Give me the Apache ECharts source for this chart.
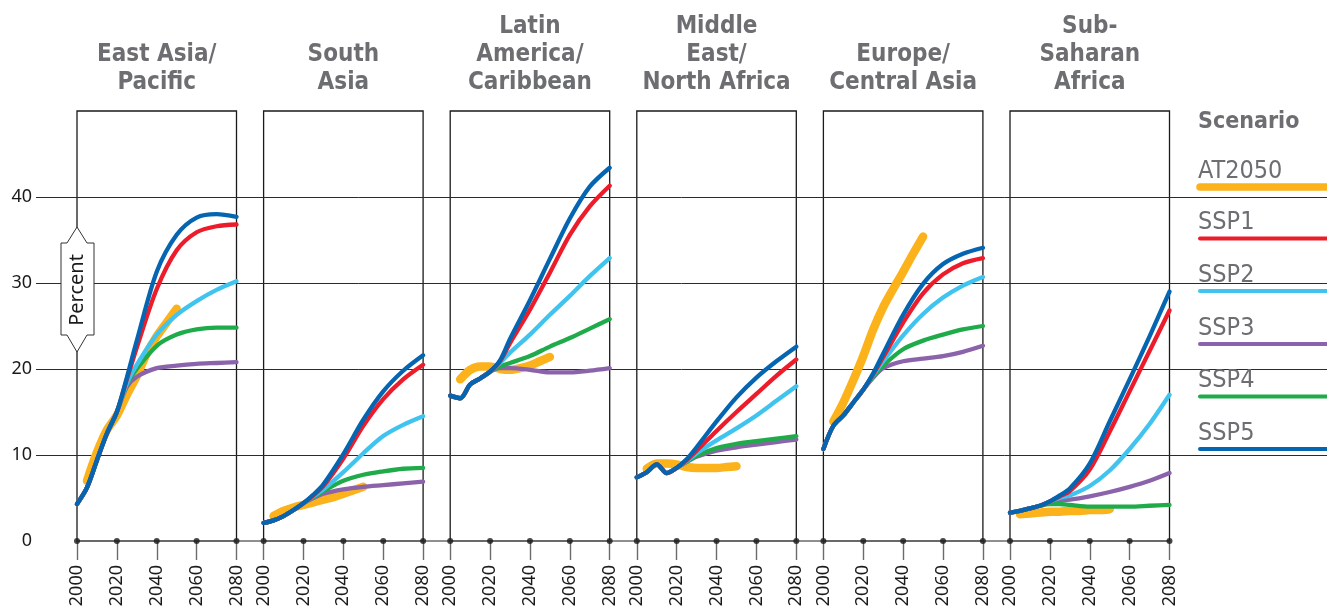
<!DOCTYPE html>
<html><head><meta charset="utf-8">
<script src="https://cdn.jsdelivr.net/npm/echarts@6/dist/echarts.min.js"></script>
<style>html,body{margin:0;padding:0;background:#fff}#c{width:1327px;height:608px}</style>
</head><body><div id="c"></div>
<script>
// ---------- data ----------
const REGIONS = ['East Asia/\nPacific', 'South\nAsia', 'Latin\nAmerica/\nCaribbean', 'Middle\nEast/\nNorth Africa', 'Europe/\nCentral Asia', 'Sub-\nSaharan\nAfrica'];
const SCENARIOS = ['AT2050', 'SSP1', 'SSP2', 'SSP3', 'SSP4', 'SSP5'];
const X_TICKS = [2000, 2020, 2040, 2060, 2080];
const Y_TICKS = [0, 10, 20, 30, 40];
const YEARS = [2000, 2005, 2010, 2015, 2020, 2025, 2030, 2040, 2050, 2060, 2070, 2080];
const AT_YEARS = [2005, 2010, 2015, 2020, 2025, 2030, 2035, 2040, 2045, 2050];

// East Asia/Pacific
const EAP_AT2050 = [7.0, 10.3, 12.9, 14.6, 17.0, 19.2, 21.8, 23.8, 25.4, 27.0];
const EAP_SSP1 = [4.3, 6.2, 9.4, 12.5, 15.0, 18.8, 22.5, 29.3, 33.8, 35.9, 36.6, 36.8];
const EAP_SSP2 = [4.3, 6.2, 9.4, 12.5, 15.0, 18.3, 20.5, 24.0, 26.3, 27.9, 29.2, 30.2];
const EAP_SSP3 = [4.3, 6.2, 9.4, 12.5, 15.0, 17.9, 19.1, 20.1, 20.4, 20.6, 20.7, 20.8];
const EAP_SSP4 = [4.3, 6.2, 9.4, 12.5, 15.0, 18.2, 20.0, 22.7, 24.0, 24.6, 24.8, 24.8];
const EAP_SSP5 = [4.3, 6.2, 9.4, 12.5, 15.0, 19.0, 23.3, 31.3, 35.6, 37.6, 38.0, 37.7];

// South Asia
const SA_AT2050 = [2.9, 3.5, 3.9, 4.2, 4.5, 4.8, 5.1, 5.5, 5.9, 6.3];
const SA_SSP1 = [2.1, 2.4, 2.9, 3.6, 4.4, 5.3, 6.4, 9.6, 13.4, 16.5, 18.8, 20.5];
const SA_SSP2 = [2.1, 2.4, 2.9, 3.6, 4.4, 5.2, 6.0, 8.0, 10.2, 12.2, 13.5, 14.5];
const SA_SSP3 = [2.1, 2.4, 2.9, 3.6, 4.4, 5.0, 5.5, 6.0, 6.3, 6.5, 6.7, 6.9];
const SA_SSP4 = [2.1, 2.4, 2.9, 3.6, 4.4, 5.1, 5.8, 7.0, 7.7, 8.1, 8.4, 8.5];
const SA_SSP5 = [2.1, 2.4, 2.9, 3.6, 4.4, 5.4, 6.6, 10.1, 14.1, 17.4, 19.8, 21.6];

// Latin America/Caribbean
const LAC_AT2050 = [18.8, 19.9, 20.3, 20.3, 20.0, 19.9, 20.1, 20.4, 20.9, 21.4];
const LAC_SSP1 = [16.9, 16.6, 18.2, 18.9, 19.7, 20.9, 23.0, 26.9, 31.2, 35.6, 38.9, 41.3];
const LAC_SSP2 = [16.9, 16.6, 18.2, 18.9, 19.7, 20.7, 21.9, 24.0, 26.3, 28.5, 30.8, 32.9];
const LAC_SSP3 = [16.9, 16.6, 18.2, 18.9, 19.7, 20.1, 20.1, 19.9, 19.6, 19.6, 19.8, 20.1];
const LAC_SSP4 = [16.9, 16.6, 18.2, 18.9, 19.7, 20.3, 20.7, 21.5, 22.6, 23.6, 24.7, 25.8];
const LAC_SSP5 = [16.9, 16.6, 18.2, 18.9, 19.7, 21.0, 23.5, 28.0, 32.8, 37.5, 41.2, 43.4];

// Middle East/North Africa
const MENA_AT2050 = [8.4, 9.0, 9.0, 8.9, 8.6, 8.5, 8.5, 8.5, 8.6, 8.7];
const MENA_SSP1 = [7.4, 8.0, 8.9, 7.9, 8.5, 9.4, 10.5, 12.8, 15.0, 17.1, 19.2, 21.1];
const MENA_SSP2 = [7.4, 8.0, 8.9, 7.9, 8.5, 9.3, 10.2, 11.7, 13.1, 14.6, 16.3, 18.0];
const MENA_SSP3 = [7.4, 8.0, 8.9, 7.9, 8.5, 9.2, 9.8, 10.5, 10.9, 11.2, 11.5, 11.8];
const MENA_SSP4 = [7.4, 8.0, 8.9, 7.9, 8.5, 9.2, 9.9, 10.8, 11.3, 11.6, 11.9, 12.2];
const MENA_SSP5 = [7.4, 8.0, 8.9, 7.9, 8.5, 9.5, 10.9, 13.9, 16.7, 19.0, 20.9, 22.6];

// Europe/Central Asia
const ECA_AT2050 = [13.9, 16.1, 18.7, 21.5, 24.6, 27.2, 29.3, 31.3, 33.4, 35.4];
const ECA_SSP1 = [10.7, 13.4, 14.6, 16.1, 17.6, 19.4, 21.4, 25.4, 28.8, 31.0, 32.3, 32.9];
const ECA_SSP2 = [10.7, 13.4, 14.6, 16.1, 17.6, 19.3, 20.9, 23.9, 26.4, 28.3, 29.7, 30.7];
const ECA_SSP3 = [10.7, 13.4, 14.6, 16.1, 17.6, 19.0, 20.1, 20.9, 21.2, 21.5, 22.0, 22.7];
const ECA_SSP4 = [10.7, 13.4, 14.6, 16.1, 17.6, 19.1, 20.4, 22.3, 23.3, 24.0, 24.6, 25.0];
const ECA_SSP5 = [10.7, 13.4, 14.6, 16.1, 17.6, 19.5, 21.8, 26.3, 29.9, 32.2, 33.4, 34.1];

// Sub-Saharan Africa
const SSA_AT2050 = [3.1, 3.2, 3.3, 3.4, 3.4, 3.5, 3.5, 3.6, 3.6, 3.7];
const SSA_SSP1 = [3.3, 3.5, 3.8, 4.1, 4.6, 5.2, 5.8, 8.3, 12.7, 17.4, 22.1, 26.8];
const SSA_SSP2 = [3.3, 3.5, 3.8, 4.1, 4.6, 5.0, 5.3, 6.4, 8.2, 10.7, 13.6, 17.0];
const SSA_SSP3 = [3.3, 3.5, 3.8, 4.1, 4.5, 4.7, 4.8, 5.2, 5.7, 6.3, 7.0, 7.9];
const SSA_SSP4 = [3.3, 3.5, 3.8, 4.1, 4.3, 4.3, 4.2, 4.0, 4.0, 4.0, 4.1, 4.2];
const SSA_SSP5 = [3.3, 3.5, 3.8, 4.1, 4.6, 5.3, 6.1, 9.0, 13.9, 18.8, 23.8, 29.0];

// table built from the arrays above (index order = SCENARIOS)
const TABLE = [
  [EAP_AT2050, EAP_SSP1, EAP_SSP2, EAP_SSP3, EAP_SSP4, EAP_SSP5],
  [SA_AT2050, SA_SSP1, SA_SSP2, SA_SSP3, SA_SSP4, SA_SSP5],
  [LAC_AT2050, LAC_SSP1, LAC_SSP2, LAC_SSP3, LAC_SSP4, LAC_SSP5],
  [MENA_AT2050, MENA_SSP1, MENA_SSP2, MENA_SSP3, MENA_SSP4, MENA_SSP5],
  [ECA_AT2050, ECA_SSP1, ECA_SSP2, ECA_SSP3, ECA_SSP4, ECA_SSP5],
  [SSA_AT2050, SSA_SSP1, SSA_SSP2, SSA_SSP3, SSA_SSP4, SSA_SSP5]
];

// ---------- styles ----------
const COLORS = ['#FBB21B', '#EC1C2B', '#40C4EF', '#8B63AB', '#20AB4B', '#0565B0'];
const DRAW_ORDER = [0, 3, 4, 2, 1, 5];
const GRAY_TEXT = '#6d6e71';
const FONT_NARROW = '"DejaVu Sans Condensed", "Liberation Sans Narrow", sans-serif';
const FONT_AXIS = '"Noto Sans", "Open Sans", sans-serif';
const TOP = 111, H = 430, PW = 159.5, STEP = 186.6, X0 = 77;

const chart = echarts.init(document.getElementById('c'), null, {renderer: 'canvas'});

const grids = [], xAxes = [], yAxes = [], series = [], graphics = [];
const plain = function (v) { return String(v); };

for (let i = 0; i < 6; i++) {
  const left = X0 + i * STEP;
  grids.push({left: left, top: TOP, width: PW, height: H, show: true, borderColor: '#1a1a1a', borderWidth: 1.3,
    backgroundColor: 'transparent', containLabel: false, outerBoundsMode: 'none'});
  xAxes.push({
    gridIndex: i, type: 'value', min: 2000, max: 2080, interval: 20,
    axisLine: {show: true, onZero: false, lineStyle: {color: '#6b6b6b', width: 1.6}},
    axisTick: {show: true, length: 19, lineStyle: {color: '#6b6b6b', width: 1.4}},
    axisLabel: {rotate: 90, margin: 24, fontFamily: FONT_AXIS, fontSize: 18, color: '#1a1a1a', showMinLabel: true, showMaxLabel: true, formatter: plain},
    splitLine: {show: false}
  });
  yAxes.push({gridIndex: i, type: 'value', min: 0, max: 50, interval: 10, show: false});

  DRAW_ORDER.forEach(function (s) {
    const vals = TABLE[i][s];
    const xs = s === 0 ? AT_YEARS : YEARS;
    series.push({
      name: SCENARIOS[s], type: 'line', xAxisIndex: i, yAxisIndex: i,
      data: xs.map(function (x, k) { return [x, vals[k]]; }),
      showSymbol: false, symbol: 'none', smooth: 0.3,
      clip: false, silent: true, animation: false,
      lineStyle: {color: COLORS[s], width: s === 0 ? 8.5 : 4.3, cap: 'round', join: 'round'},
      emphasis: {disabled: true}
    });
  });
  series.push({
    type: 'scatter', xAxisIndex: i, yAxisIndex: i, z: 5,
    data: X_TICKS.map(function (t) { return [t, 0]; }),
    symbolSize: 6, itemStyle: {color: '#1a1a1a'}, clip: false, silent: true, animation: false
  });

  graphics.push({
    type: 'text', x: left + PW / 2, y: 97, z: 10,
    style: {text: REGIONS[i], font: 'bold 24px ' + FONT_NARROW, fill: GRAY_TEXT, align: 'center', verticalAlign: 'bottom', lineHeight: 28}
  });
}

// background horizontal gridlines + y labels
grids.push({left: 36, top: TOP, right: 0, height: H, containLabel: false, outerBoundsMode: 'none'});
xAxes.push({gridIndex: 6, type: 'value', min: 0, max: 1, show: false});
yAxes.push({
  gridIndex: 6, type: 'value', min: 0, max: 50, interval: 10,
  axisLine: {show: false}, axisTick: {show: false},
  axisLabel: {show: true, margin: 4, fontFamily: FONT_AXIS, fontSize: 18, color: '#1a1a1a',
    formatter: function (v) { return Y_TICKS.indexOf(v) >= 0 ? String(v) : ''; }},
  splitLine: {show: true, showMinLine: false, showMaxLine: false, lineStyle: {color: '#2b2b2b', width: 1}}
});
// continuous baseline
grids.push({left: X0, top: TOP, width: 5 * STEP + PW, height: H, containLabel: false, outerBoundsMode: 'none'});
xAxes.push({gridIndex: 7, type: 'value', min: 0, max: 1, axisLine: {show: true, lineStyle: {color: '#6b6b6b', width: 1.6}}, axisTick: {show: false}, axisLabel: {show: false}, splitLine: {show: false}});
yAxes.push({gridIndex: 7, type: 'value', min: 0, max: 1, show: false});

// "Percent" arrow box
graphics.push({
  type: 'polygon', z: 20,
  shape: {points: [[77, 227], [87, 243], [94, 243], [94, 335], [87, 335], [77, 352], [67, 335], [61, 335], [61, 243], [67, 243]]},
  style: {fill: '#fff', stroke: '#333', lineWidth: 1}
});
graphics.push({
  type: 'text', x: 77, y: 290, rotation: Math.PI / 2, z: 21,
  style: {text: 'Percent', font: '20px ' + FONT_AXIS, fill: '#1a1a1a', align: 'center', verticalAlign: 'middle'}
});

// legend
graphics.push({
  type: 'text', x: 1198, y: 122, z: 10,
  style: {text: 'Scenario', font: 'bold 23px ' + FONT_NARROW, fill: GRAY_TEXT, align: 'left', verticalAlign: 'middle'}
});
const LEG_Y = [187, 238.5, 291, 344, 396.5, 449];
SCENARIOS.forEach(function (name, s) {
  graphics.push({
    type: 'text', x: 1198, y: LEG_Y[s] - 16, z: 10,
    style: {text: name, font: '25px ' + FONT_NARROW, fill: GRAY_TEXT, align: 'left', verticalAlign: 'middle'}
  });
  graphics.push({
    type: 'line', z: 10,
    shape: {x1: 1200, y1: LEG_Y[s], x2: 1340, y2: LEG_Y[s]},
    style: {stroke: COLORS[s], lineWidth: s === 0 ? 7.5 : 4, lineCap: 'round'}
  });
});

chart.setOption({
  animation: false,
  backgroundColor: '#fff',
  grid: grids, xAxis: xAxes, yAxis: yAxes, series: series, graphic: graphics
});
</script>
</body></html>
